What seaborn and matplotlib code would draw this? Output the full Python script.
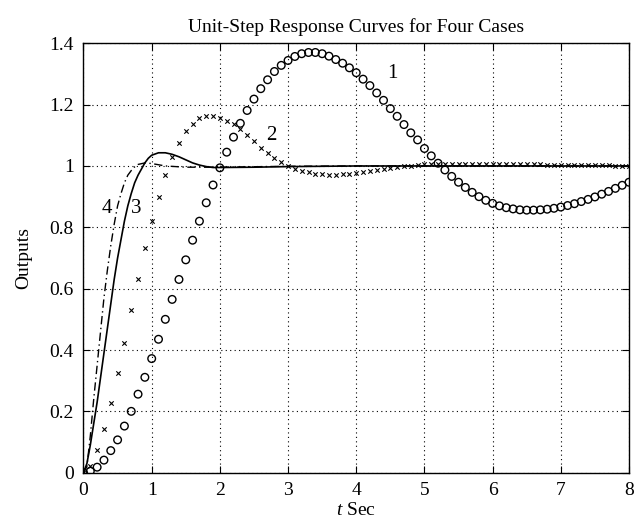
import numpy as np
import pandas as pd
import matplotlib
matplotlib.use("Agg")
import matplotlib.pyplot as plt
import seaborn as sns

# ---- data ----
t_marks = [round(0.1 * i, 1) for i in range(81)]

case1 = [0.000, 0.005, 0.018, 0.041, 0.072, 0.107, 0.152, 0.200, 0.256, 0.311,
         0.372, 0.435, 0.500, 0.565, 0.630, 0.694, 0.758, 0.820, 0.880, 0.938,
         0.994, 1.045, 1.094, 1.139, 1.181, 1.218, 1.252, 1.281, 1.308, 1.328,
         1.344, 1.357, 1.366, 1.370, 1.370, 1.366, 1.358, 1.347, 1.335, 1.320,
         1.304, 1.283, 1.262, 1.238, 1.214, 1.187, 1.162, 1.135, 1.108, 1.085,
         1.057, 1.033, 1.009, 0.987, 0.966, 0.947, 0.930, 0.914, 0.900, 0.888,
         0.878, 0.870, 0.864, 0.860, 0.857, 0.856, 0.856, 0.857, 0.859, 0.862,
         0.866, 0.871, 0.877, 0.884, 0.891, 0.899, 0.908, 0.917, 0.927, 0.937,
         0.947]

case2 = [0.000, 0.022, 0.074, 0.143, 0.228, 0.324, 0.424, 0.530, 0.632, 0.732,
         0.820, 0.898, 0.969, 1.028, 1.075, 1.113, 1.138, 1.156, 1.164, 1.163,
         1.158, 1.148, 1.137, 1.120, 1.100, 1.080, 1.060, 1.042, 1.027, 1.012,
         1.001, 0.991, 0.984, 0.979, 0.975, 0.973, 0.972, 0.972, 0.973, 0.975,
         0.977, 0.980, 0.983, 0.986, 0.990, 0.993, 0.996, 0.999, 1.001, 1.003,
         1.005, 1.006, 1.007, 1.007, 1.007, 1.007, 1.007, 1.007, 1.007, 1.007,
         1.007, 1.006, 1.006, 1.006, 1.006, 1.005, 1.005, 1.005, 1.004, 1.004,
         1.004, 1.004, 1.003, 1.003, 1.003, 1.002, 1.002, 1.002, 1.001, 1.001,
         1.001]

t_case3 = [0.0, 0.05, 0.1, 0.15, 0.2, 0.25, 0.3, 0.35, 0.4, 0.45, 0.5, 0.55, 0.6,
           0.65, 0.7, 0.75, 0.8, 0.85, 0.9, 0.95, 1.0, 1.1, 1.2, 1.3, 1.4, 1.5,
           1.6, 1.7, 1.8, 1.9, 2.0, 2.5, 3.0, 4.0, 5.0, 6.0, 7.0, 8.0]
case3 = [0.0, 0.03, 0.09, 0.16, 0.23, 0.31, 0.39, 0.47, 0.55, 0.63, 0.70, 0.76,
         0.82, 0.87, 0.91, 0.945, 0.97, 0.99, 1.01, 1.025, 1.035, 1.043, 1.043,
         1.038, 1.030, 1.020, 1.010, 1.003, 0.998, 0.995, 0.995, 0.996, 0.998,
         1.0, 1.0, 1.0, 1.0, 1.0]

t_case4 = [0.0, 0.05, 0.1, 0.15, 0.2, 0.25, 0.3, 0.35, 0.4, 0.45, 0.5, 0.55, 0.6,
           0.65, 0.7, 0.75, 0.8, 0.9, 1.0, 1.2, 1.5, 2.0, 3.0, 4.0, 5.0, 6.0,
           7.0, 8.0]
case4 = [0.0, 0.02, 0.12, 0.24, 0.35, 0.46, 0.57, 0.66, 0.74, 0.81, 0.87, 0.91,
         0.945, 0.97, 0.985, 0.997, 1.005, 1.01, 1.008, 1.0, 0.996, 0.996, 0.999,
         1.0, 1.0, 1.0, 1.0, 1.0]

curve_labels = ["1", "2", "3", "4"]
label_pos_t = [4.53, 2.76, 0.77, 0.34]
label_pos_y = [1.30, 1.10, 0.86, 0.86]

title = "Unit-Step Response Curves for Four Cases"
x_ticks = [0, 1, 2, 3, 4, 5, 6, 7, 8]
y_ticks = [0, 0.2, 0.4, 0.6, 0.8, 1, 1.2, 1.4]
y_tick_labels = ["0", "0.2", "0.4", "0.6", "0.8", "1", "1.2", "1.4"]

# ---- plotting ----
sns.set_theme(style="ticks")
plt.rcParams["font.family"] = ["Liberation Serif", "DejaVu Serif"]
plt.rcParams["mathtext.fontset"] = "custom"
plt.rcParams["mathtext.it"] = "Liberation Serif:italic"
plt.rcParams["mathtext.rm"] = "Liberation Serif"
plt.rcParams["text.color"] = "black"
plt.rcParams["axes.labelcolor"] = "black"
plt.rcParams["xtick.color"] = "black"
plt.rcParams["ytick.color"] = "black"

fig = plt.figure(figsize=(6.34, 5.24), dpi=100)
ax = fig.add_axes([0.1317, 0.0979, 0.9921 - 0.1317, 0.9174 - 0.0979])

df1 = pd.DataFrame({"t": t_marks, "y": case1})
df2 = pd.DataFrame({"t": t_marks, "y": case2})
df3 = pd.DataFrame({"t": t_case3, "y": case3})
df4 = pd.DataFrame({"t": t_case4, "y": case4})

sns.lineplot(data=df3, x="t", y="y", ax=ax, color="black", linewidth=1.2,
             estimator=None, sort=False)
sns.lineplot(data=df4, x="t", y="y", ax=ax, color="black", linewidth=1.0,
             estimator=None, sort=False, linestyle=(0, (6, 2.5, 1, 2.5)))
sns.scatterplot(data=df2, x="t", y="y", ax=ax, marker="x", color="black",
                s=10, linewidth=0.8, zorder=3)
sns.scatterplot(data=df1, x="t", y="y", ax=ax, marker="o", facecolors="none",
                edgecolor="black", s=30, linewidth=1.0, zorder=4)

for lab, tx, ty in zip(curve_labels, label_pos_t, label_pos_y):
    ax.text(tx, ty, lab, fontsize=15, ha="center", va="center", color="black")

ax.set_xlim(0, 8)
ax.set_ylim(0, 1.4)
ax.set_xticks(x_ticks)
ax.set_xticklabels([str(v) for v in x_ticks])
ax.set_yticks(y_ticks)
ax.set_yticklabels(y_tick_labels)
ax.grid(True, color="black", linestyle=(0, (1, 3)), linewidth=0.8)
ax.tick_params(direction="in", length=5, width=0.8, top=True, right=True,
               labelsize=14, pad=7, colors="black")
for sp in ax.spines.values():
    sp.set_visible(True)
    sp.set_color("black")
    sp.set_linewidth(1.0)

ax.set_title(title, fontsize=14, pad=8, color="black")
ax.set_xlabel(r"$t$ Sec", fontsize=14, labelpad=2)
ax.set_ylabel("Outputs", fontsize=14, labelpad=12)

fig.savefig("out.png", dpi=100)
